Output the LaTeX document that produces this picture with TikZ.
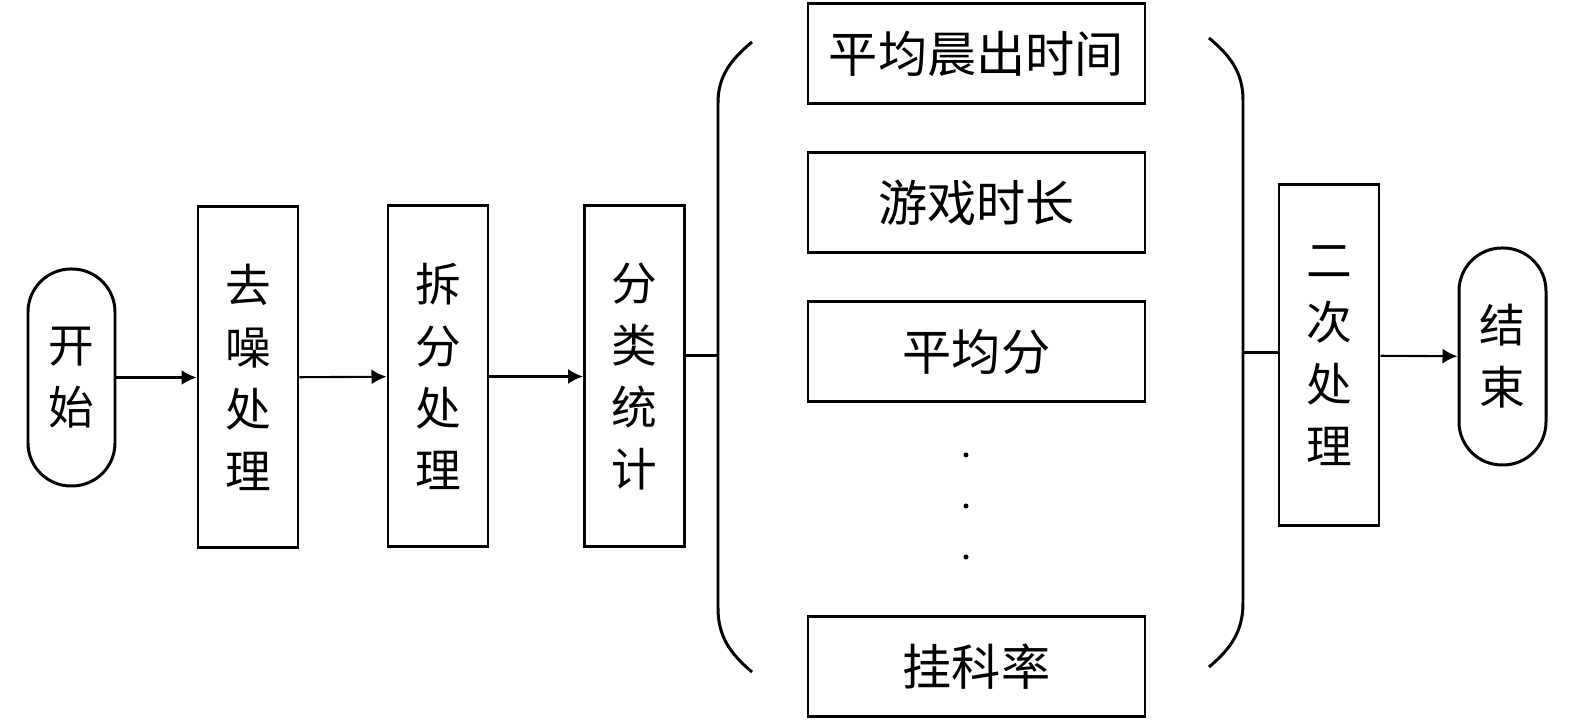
\documentclass[tikz,border=0pt]{standalone}
\usepackage{fontspec}
\newfontfamily\cjk{Noto Sans CJK SC}
\usetikzlibrary{arrows.meta}

\tikzset{
    stepbox/.style={draw, line width=0.85pt, minimum width=1cm, minimum height=3.41cm, inner sep=0pt, align=center, font=\cjk\fontsize{13}{17.6}\selectfont},
    capsule/.style={draw, line width=0.85pt, minimum width=0.87cm, minimum height=2.17cm, rounded corners=0.43cm, inner sep=0pt, align=center, font=\cjk\fontsize{13}{17.6}\selectfont},
    item/.style={draw, line width=0.85pt, minimum width=3.37cm, minimum height=1cm, inner sep=0pt, font=\cjk\fontsize{14}{16}\selectfont},
    arr/.style={-{Latex[length=0.15cm,width=0.15cm]}, line width=0.6pt},
    brace/.style={line width=0.85pt}
}

\begin{document}
\begin{tikzpicture}
    \useasboundingbox (0,0) rectangle (15.75,7.22);

    % Flow steps
    \node[capsule] (start) at (0.715,3.445) {开\\始};
    \node[stepbox] (quzao) at (2.48,3.445) {去\\噪\\处\\理};
    \node[stepbox] (chaifen) at (4.38,3.455) {拆\\分\\处\\理};
    \node[stepbox] (fenlei) at (6.345,3.455) {分\\类\\统\\计};
    \node[stepbox] (erci) at (13.29,3.665) {二\\次\\处\\理};
    \node[capsule] (stop) at (15.025,3.655) {结\\束};

    % Statistic items
    \node[item] (chuqin) at (9.765,6.68) {平均晨出时间};
    \node[item] (youxi) at (9.765,5.19) {游戏时长};
    \node[item] (pingjun) at (9.765,3.70) {平均分};
    \node[item] (guake) at (9.765,0.55) {挂科率};
    \foreach \y in {2.67,2.16,1.65}
        \fill (9.66,\y) circle (0.025);

    % Brackets
    \coordinate (lb) at (7.18,3.66);
    \coordinate (rb) at (12.43,3.69);
    \draw[brace] (7.52,6.80) to[out=220,in=90] (7.18,6.19) -- (7.18,1.14) to[out=-90,in=140] (7.52,0.50);
    \draw[brace] (12.09,6.84) to[out=-40,in=90] (12.43,6.22) -- (12.43,1.19) to[out=-90,in=40] (12.09,0.55);

    % Connectors
    \draw[arr] (start) -- (quzao);
    \draw[arr] (quzao) -- (chaifen);
    \draw[arr] (chaifen) -- (fenlei);
    \draw[brace] (lb -| fenlei.east) -- (lb);
    \draw[brace] (rb) -- (rb -| erci.west);
    \draw[arr] (erci) -- (stop);
\end{tikzpicture}
\end{document}
